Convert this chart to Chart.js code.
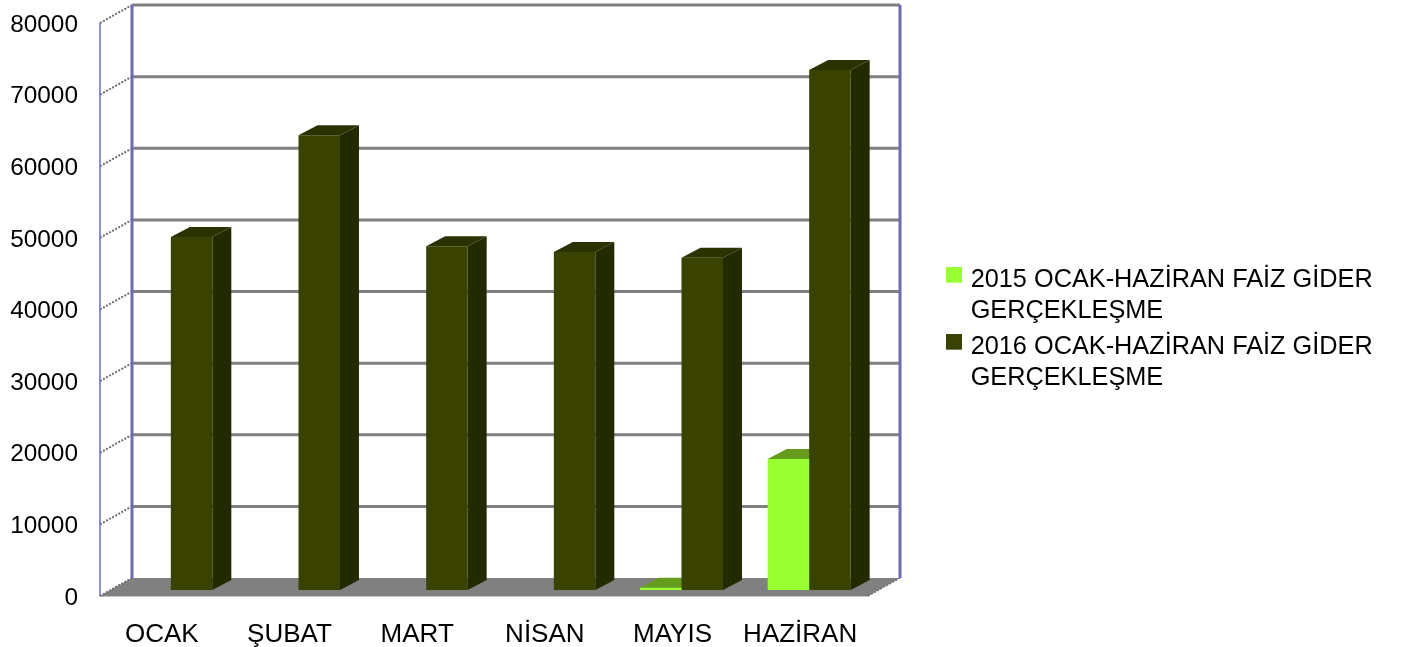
<!DOCTYPE html>
<html><head><meta charset="utf-8">
<script src="https://cdn.jsdelivr.net/npm/chart.js@4"></script>
<style>html,body{margin:0;padding:0;background:#fff;overflow:hidden}#w{width:1405px;height:647px;position:relative}</style>
</head><body><div id="w"><canvas id="c" width="1405" height="647"></canvas></div>
<script>
const categories = ['OCAK','ŞUBAT','MART','NİSAN','MAYIS','HAZİRAN'];
const series2015 = [0,0,0,0,300,18300];
const series2016 = [49300,63500,48000,47200,46400,72600];
const yTicks = [0,10000,20000,30000,40000,50000,60000,70000,80000];
const label2015 = ['2015 OCAK-HAZİRAN FAİZ GİDER','GERÇEKLEŞME'];
const label2016 = ['2016 OCAK-HAZİRAN FAİZ GİDER','GERÇEKLEŞME'];
const colors = {g:'#99ff33',gTop:'#669c1c',gSide:'#5f9418',d:'#394200',dTop:'#2a3200',dSide:'#222b00'};
const FONT = 'Liberation Sans, Arial, sans-serif';
function poly(ctx,pts,fill){ctx.fillStyle=fill;ctx.beginPath();pts.forEach((p,i)=>i?ctx.lineTo(p[0],p[1]):ctx.moveTo(p[0],p[1]));ctx.closePath();ctx.fill();}
function swatch(color){const c=document.createElement('canvas');c.width=16;c.height=26;const g=c.getContext('2d');g.fillStyle=color;g.fillRect(0,0,16,16);return c;}
const frame3d = {
  id:'frame3d',
  afterLayout(chart){
    const l=chart.legend; const w=l.width,h=l.height;
    l.left=945; l.right=945+w; l.top=262; l.bottom=262+h;
  },
  beforeDatasetsDraw(chart){
    const {ctx,scales:{x,y},chartArea:a}=chart;
    const fl=a.left-7, fr=a.right-5, bl=a.left+25, br=a.right+27;
    const yb=y.getPixelForValue(0), wallDy=-12, frontDy=6;
    ctx.save();
    poly(ctx,[[fl,yb+frontDy],[fr,yb+frontDy],[br,yb+wallDy],[bl,yb+wallDy]],'#808080');
    ctx.strokeStyle='#c4c4c4';ctx.lineWidth=1;ctx.beginPath();ctx.moveTo(fl,yb+frontDy+.5);ctx.lineTo(fr,yb+frontDy+.5);ctx.stroke();
    yTicks.forEach(v=>{
      const p=y.getPixelForValue(v);
      const wy=p+wallDy, fy=p+frontDy;
      if(v>0){ctx.strokeStyle='#808080';ctx.lineWidth=3;ctx.beginPath();ctx.moveTo(bl,wy);ctx.lineTo(br,wy);ctx.stroke();}
      ctx.strokeStyle='#6e6e6e';ctx.lineWidth=2;ctx.setLineDash([2,1.5]);ctx.beginPath();ctx.moveTo(fl,fy);ctx.lineTo(bl,wy);ctx.stroke();ctx.setLineDash([]);
    });
    ctx.strokeStyle='#6e6e6e';ctx.lineWidth=1.5;ctx.setLineDash([2,1.5]);ctx.beginPath();ctx.moveTo(fr,yb+frontDy);ctx.lineTo(br,yb+wallDy);ctx.stroke();ctx.setLineDash([]);
    const yt=y.getPixelForValue(80000);
    ctx.strokeStyle='#6b6bb8';
    ctx.lineWidth=3;ctx.beginPath();ctx.moveTo(bl,yt+wallDy);ctx.lineTo(bl,yb+wallDy);ctx.moveTo(br,yt+wallDy);ctx.lineTo(br,yb+wallDy);ctx.stroke();
    ctx.lineWidth=1.5;ctx.beginPath();ctx.moveTo(fl,yt+frontDy);ctx.lineTo(fl,yb+frontDy);ctx.stroke();
    const dx=19,dy=-10;
    chart.data.datasets.forEach((ds,i)=>{
      const tone=i===0?[colors.gTop,colors.gSide]:[colors.dTop,colors.dSide];
      chart.getDatasetMeta(i).data.forEach((b,j)=>{
        if(!ds.data[j])return;
        const hw=b.width/2,l=b.x-hw,r=b.x+hw,t=b.y,bt=b.base;
        poly(ctx,[[r,t],[r+dx,t+dy],[r+dx,bt+dy],[r,bt]],tone[1]);
        poly(ctx,[[l,t],[l+dx,t+dy],[r+dx,t+dy],[r,t]],tone[0]);
      });
    });
    ctx.restore();
  }
};
new Chart(document.getElementById('c'),{
  type:'bar',
  data:{labels:categories,datasets:[
    {label:label2015,data:series2015,backgroundColor:colors.g,borderWidth:0},
    {label:label2016,data:series2016,backgroundColor:colors.d,borderWidth:0}
  ]},
  options:{
    responsive:false,animation:false,
    layout:{autoPadding:false,padding:{top:17,right:532,left:0,bottom:0}},
    datasets:{bar:{barPercentage:1,categoryPercentage:0.65}},
    plugins:{tooltip:{enabled:false},title:{display:false},
      legend:{position:'chartArea',align:'start',
        labels:{color:'#000',font:{family:FONT,size:25.3,lineHeight:1.225},usePointStyle:true,pointStyleWidth:8,boxHeight:8,padding:5,
          generateLabels(chart){return chart.data.datasets.map((d,i)=>({text:d.label,pointStyle:swatch(d.backgroundColor),fillStyle:d.backgroundColor,strokeStyle:d.backgroundColor,lineWidth:0,datasetIndex:i,hidden:false}));}
        }}},
    scales:{
      x:{grid:{display:false,drawTicks:false},border:{display:false},
        afterFit(s){s.height=57;s.paddingLeft=0;s.paddingRight=0;},
        ticks:{color:'#000',font:{family:FONT,size:26},padding:29,labelOffset:-9,autoSkip:false,maxRotation:0}},
      y:{min:0,max:80000,grid:{display:false,drawTicks:false},border:{display:false},
        afterFit(s){s.width=107;s.paddingTop=0;s.paddingBottom=0;},
        afterBuildTicks(s){s.ticks=yTicks.map(v=>({value:v}));},
        ticks:{color:'#000',font:{family:FONT,size:24.4},padding:29,labelOffset:8,callback:v=>String(v)}}
    }
  },
  plugins:[frame3d]
});
</script></body></html>
